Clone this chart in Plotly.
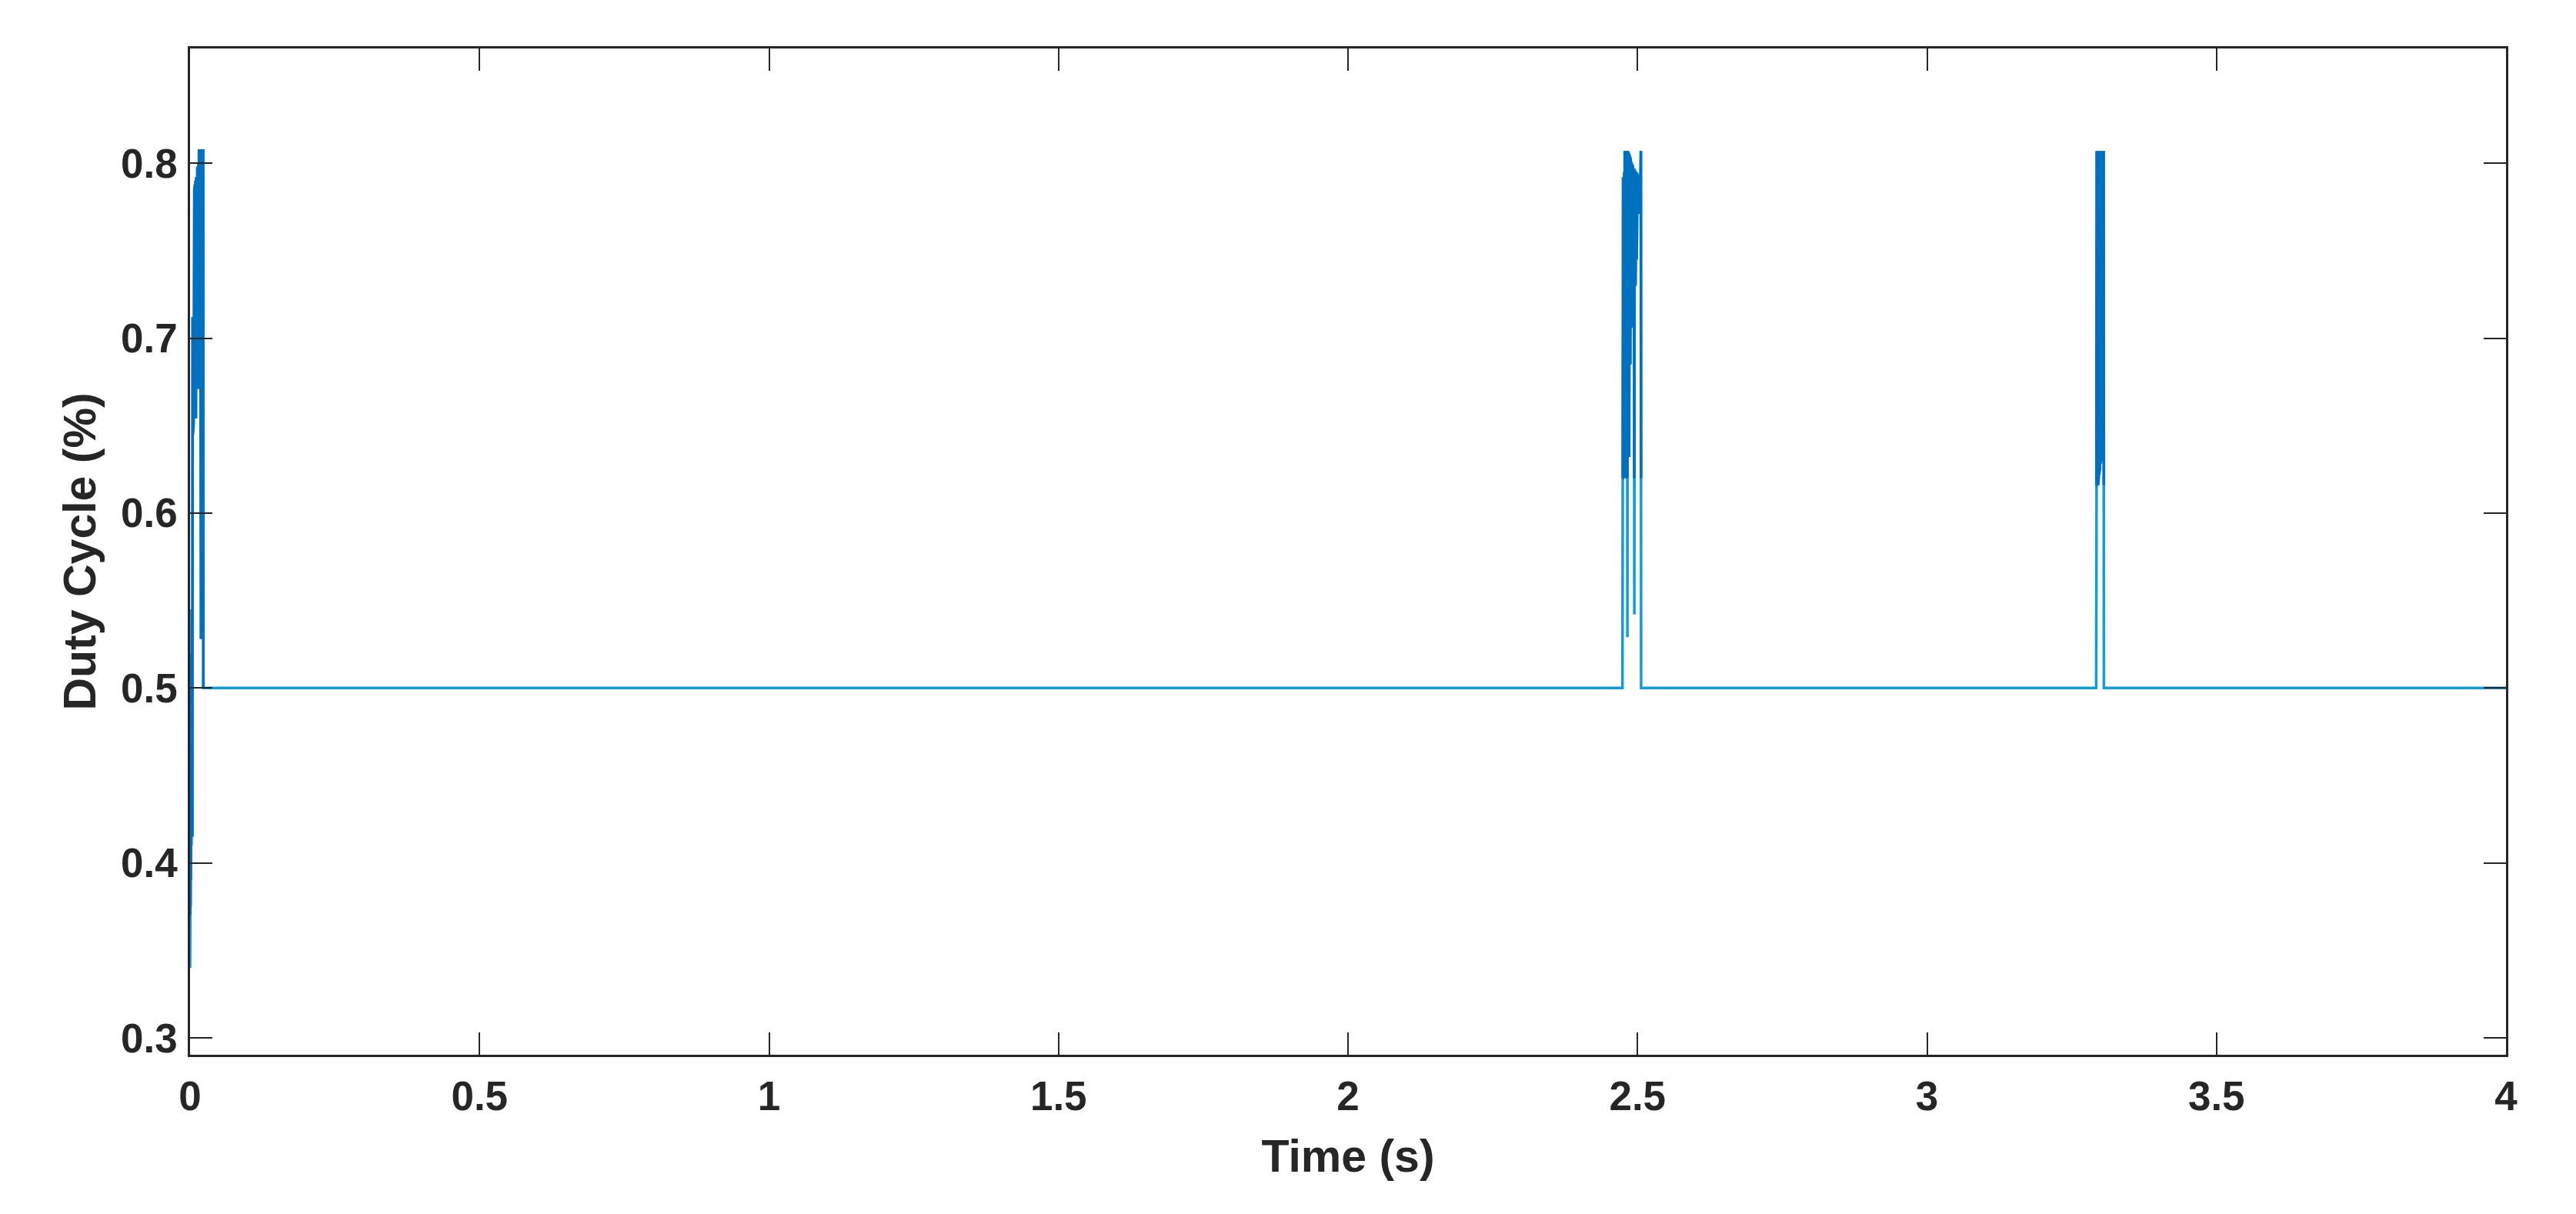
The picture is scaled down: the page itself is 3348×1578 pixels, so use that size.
"""Duty cycle of the converter over a 4 s run."""

import numpy as np
import plotly.graph_objects as go

# start-up transient (time in s, duty cycle)
startup_time = [
    0.0000, 0.0003, 0.0006, 0.0009, 0.0012, 0.0015, 0.0018, 0.0021, 0.0024,
    0.0027, 0.0030, 0.0033, 0.0036, 0.0040, 0.0045, 0.0050, 0.0055, 0.0060,
    0.0065, 0.0070, 0.0075, 0.0080, 0.0085, 0.0090, 0.0095, 0.0100, 0.0105,
    0.0110, 0.0115, 0.0120, 0.0125, 0.0130, 0.0135, 0.0140, 0.0145, 0.0150,
    0.0155, 0.0160, 0.0165, 0.0170, 0.0175, 0.0180, 0.0185, 0.0190, 0.0195,
    0.0200, 0.0205, 0.0210, 0.0215, 0.0220, 0.0226, 0.0230,
]
startup_duty = [
    0.340, 0.372, 0.405, 0.375, 0.440, 0.390, 0.480, 0.410, 0.520,
    0.430, 0.545, 0.455, 0.540, 0.415, 0.712, 0.645, 0.710, 0.650,
    0.712, 0.660, 0.785, 0.676, 0.788, 0.670, 0.790, 0.654, 0.792,
    0.676, 0.792, 0.672, 0.798, 0.676, 0.798, 0.671, 0.800, 0.676,
    0.808, 0.680, 0.808, 0.675, 0.808, 0.690, 0.808, 0.528, 0.808,
    0.700, 0.808, 0.720, 0.808, 0.760, 0.808, 0.500,
]

# first disturbance around 2.49 s
burst1_time = [
    2.4740, 2.4745, 2.4750, 2.4755, 2.4760, 2.4765, 2.4770, 2.4775, 2.4780,
    2.4785, 2.4790, 2.4795, 2.4800, 2.4805, 2.4810, 2.4815, 2.4820, 2.4825,
    2.4830, 2.4835, 2.4840, 2.4845, 2.4850, 2.4855, 2.4860, 2.4865, 2.4870,
    2.4875, 2.4880, 2.4885, 2.4890, 2.4895, 2.4900, 2.4905, 2.4910, 2.4915,
    2.4920, 2.4925, 2.4930, 2.4935, 2.4940, 2.4945, 2.4950, 2.4955, 2.4960,
    2.4965, 2.4970, 2.4975, 2.4980, 2.4985, 2.4990, 2.4995, 2.5000, 2.5005,
    2.5010, 2.5015, 2.5020, 2.5025, 2.5030, 2.5035, 2.5040, 2.5050, 2.5058,
    2.5062,
]
burst1_duty = [
    0.500, 0.620, 0.792, 0.622, 0.792, 0.620, 0.795, 0.621, 0.807,
    0.625, 0.807, 0.620, 0.806, 0.628, 0.807, 0.622, 0.807, 0.529,
    0.807, 0.632, 0.806, 0.640, 0.806, 0.632, 0.805, 0.706, 0.804,
    0.685, 0.803, 0.708, 0.801, 0.706, 0.800, 0.712, 0.799, 0.714,
    0.798, 0.712, 0.797, 0.714, 0.797, 0.542, 0.796, 0.716, 0.795,
    0.730, 0.795, 0.760, 0.795, 0.745, 0.794, 0.772, 0.794, 0.778,
    0.793, 0.771, 0.792, 0.782, 0.792, 0.772, 0.790, 0.785, 0.807,
    0.500,
]

# second disturbance around 3.3 s
burst2_time = [
    3.2922, 3.2926, 3.2930, 3.2935, 3.2940, 3.2945, 3.2950, 3.2955, 3.2960,
    3.2965, 3.2970, 3.2975, 3.2980, 3.2985, 3.2990, 3.2995, 3.3000, 3.3005,
    3.3010, 3.3015, 3.3020, 3.3025, 3.3030, 3.3035, 3.3040, 3.3045, 3.3050,
    3.3055,
]
burst2_duty = [
    0.500, 0.616, 0.807, 0.616, 0.807, 0.618, 0.807, 0.616, 0.807,
    0.620, 0.807, 0.622, 0.807, 0.625, 0.807, 0.628, 0.807, 0.630,
    0.807, 0.632, 0.807, 0.630, 0.807, 0.632, 0.807, 0.630, 0.807,
    0.500,
]

# steady state up to the end of the run
end_time = [4.0]
end_duty = [0.5]

# band of the dense switching inside each transient (drawn darker)
startup_band = [0.37, 0.81]
burst1_band = [0.62, 0.81]
burst2_band = [0.616, 0.81]

x_ticks = [0, 0.5, 1, 1.5, 2, 2.5, 3, 3.5, 4]
x_tick_labels = ["0", "0.5", "1", "1.5", "2", "2.5", "3", "3.5", "4"]
y_ticks = [0.3, 0.4, 0.5, 0.6, 0.7, 0.8]
y_tick_labels = ["0.3", "0.4", "0.5", "0.6", "0.7", "0.8"]

LIGHT_BLUE = "#129DDA"
DARK_BLUE = "#0070C0"
AXIS_COLOR = "#262626"
FONT = "Liberation Sans, Arial, Helvetica, sans-serif"


def plot_duty_cycle() -> go.Figure:
    """Build the duty cycle figure."""
    time = startup_time + burst1_time + burst2_time + end_time
    duty = startup_duty + burst1_duty + burst2_duty + end_duty

    fig = go.Figure()
    fig.add_trace(
        go.Scatter(
            x=time,
            y=duty,
            mode="lines",
            line={"color": LIGHT_BLUE, "width": 3.5},
            hovertemplate="t=%{x:.4f} s<br>D=%{y:.3f}<extra></extra>",
        )
    )

    # dense switching looks solid and darker in the original
    for t, d, band in (
        (startup_time, startup_duty, startup_band),
        (burst1_time, burst1_duty, burst1_band),
        (burst2_time, burst2_duty, burst2_band),
    ):
        fig.add_trace(
            go.Scatter(
                x=t,
                y=np.clip(d, band[0], band[1]),
                mode="lines",
                line={"color": DARK_BLUE, "width": 3.5},
                hoverinfo="skip",
            )
        )

    axis_common = {
        "showline": True,
        "linecolor": AXIS_COLOR,
        "linewidth": 2.5,
        "mirror": "allticks",
        "ticks": "inside",
        "ticklen": 29,
        "tickwidth": 2,
        "tickcolor": AXIS_COLOR,
        "showgrid": False,
        "zeroline": False,
        "tickfont": {"family": FONT, "size": 53, "color": AXIS_COLOR, "weight": "bold"},
    }

    # page body adds 8 px around the figure, so size and margins allow for it
    fig.update_layout(
        width=3332,
        height=1562,
        showlegend=False,
        paper_bgcolor="white",
        plot_bgcolor="white",
        margin={"l": 239, "r": 83, "t": 55, "b": 199},
        xaxis={
            **axis_common,
            "range": [0, 4],
            "tickvals": x_ticks,
            "ticktext": x_tick_labels,
            "ticklabelstandoff": 6,
            "title": {
                "text": "Time (s)",
                "font": {"family": FONT, "size": 59, "color": AXIS_COLOR, "weight": "bold"},
                "standoff": 29,
            },
        },
        yaxis={
            **axis_common,
            "range": [0.2903, 0.8656],
            "tickvals": y_ticks,
            "ticktext": y_tick_labels,
            "ticklabelstandoff": 3,
            "title": {
                "text": "Duty Cycle (%)",
                "font": {"family": FONT, "size": 59, "color": AXIS_COLOR, "weight": "bold"},
                "standoff": 14,
            },
        },
    )
    return fig


if __name__ == "__main__":
    plot_duty_cycle().write_html("out.html")
